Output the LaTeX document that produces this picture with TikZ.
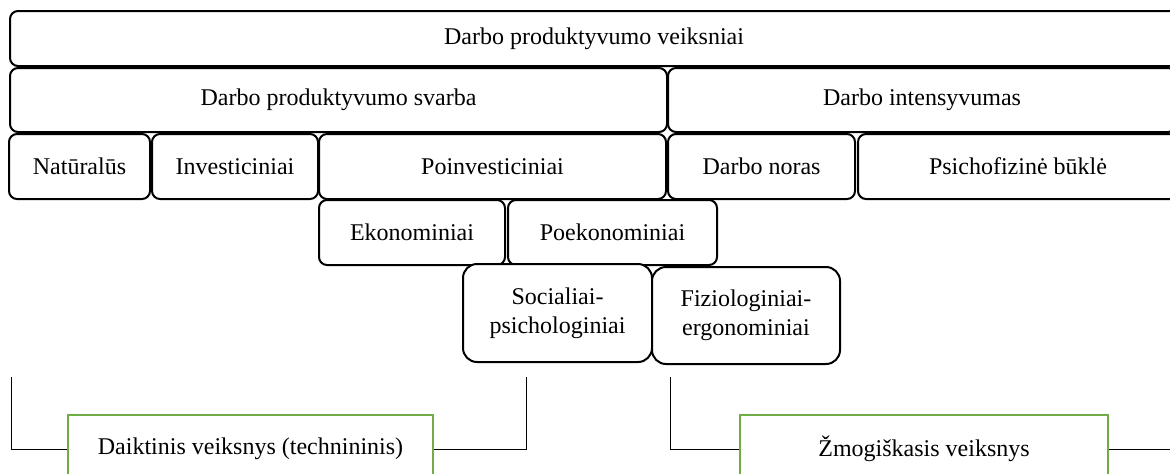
\documentclass[tikz,border=0pt]{standalone}
\usepackage{fontspec}
\setmainfont{Liberation Serif}
\definecolor{boxgreen}{RGB}{112,173,71}
\tikzset{
  factor/.style={draw,line width=1pt,rounded corners=4pt,inner sep=0pt,align=center,fill=white},
  subfactor/.style={factor,rounded corners=7pt},
  kind/.style={draw=boxgreen,line width=1.3pt,inner sep=0pt,fill=white},
  bracket/.style={line width=0.5pt}
}
\begin{document}
\begin{tikzpicture}[x=0.5pt,y=-0.5pt,font=\fontsize{12}{14.5}\selectfont]
                \clip (0,0) rectangle (1170,473);
                \fill[white] (0,0) rectangle (1170,473);
                \node[factor,minimum width=584pt,minimum height=27.5pt] (veiksniai) at (594,38.5) {Darbo produktyvumo veiksniai};
                \node[factor,minimum width=328.5pt,minimum height=32pt] (svarba) at (338.5,100) {Darbo produktyvumo svarba};
                \node[factor,minimum width=254pt,minimum height=32pt] (intensyvumas) at (922,100) {Darbo intensyvumas};
                \node[factor,minimum width=70.5pt,minimum height=32.5pt] (naturalus) at (79.5,166.5) {Natūralūs};
                \node[factor,minimum width=83pt,minimum height=32.5pt] (investiciniai) at (235,166.5) {Investiciniai};
                \node[factor,minimum width=173.5pt,minimum height=32.5pt] (poinvesticiniai) at (492.5,166.5) {Poinvesticiniai};
                \node[factor,minimum width=93.5pt,minimum height=32.5pt] (noras) at (761.5,166.5) {Darbo noras};
                \node[factor,minimum width=160pt,minimum height=32.5pt] (bukle) at (1018,166.5) {Psichofizinė būklė};
                \node[factor,minimum width=93pt,minimum height=32.5pt] (ekonominiai) at (412,232.5) {Ekonominiai};
                \node[factor,minimum width=104.5pt,minimum height=32.5pt] (poekonominiai) at (612.5,232.5) {Poekonominiai};
                \node[subfactor,minimum width=94.5pt,minimum height=49pt] (socialiai) at (557.5,313) {Socialiai-\\psichologiniai};
                \node[subfactor,minimum width=94pt,minimum height=48.5pt] (fiziologiniai) at (746,315.5) {Fiziologiniai-\\ergonominiai};
                \node[kind,minimum width=182.5pt,minimum height=34pt] (daiktinis) at (250.5,449) {Daiktinis veiksnys (technininis)};
                \node[kind,minimum width=184pt,minimum height=34pt] (zmogiskasis) at (924,449) {Žmogiškasis veiksnys};
                \coordinate (dl) at (11,377);
                \coordinate (dr) at (526,377);
                \coordinate (zl) at (670,377);
                \coordinate (zr) at (1190,449);
                \draw[bracket] (dl) |- (daiktinis.west);
                \draw[bracket] (daiktinis.east) -| (dr);
                \draw[bracket] (zl) |- (zmogiskasis.west);
                \draw[bracket] (zmogiskasis.east) -- (zr);
            \end{tikzpicture}
\end{document}
